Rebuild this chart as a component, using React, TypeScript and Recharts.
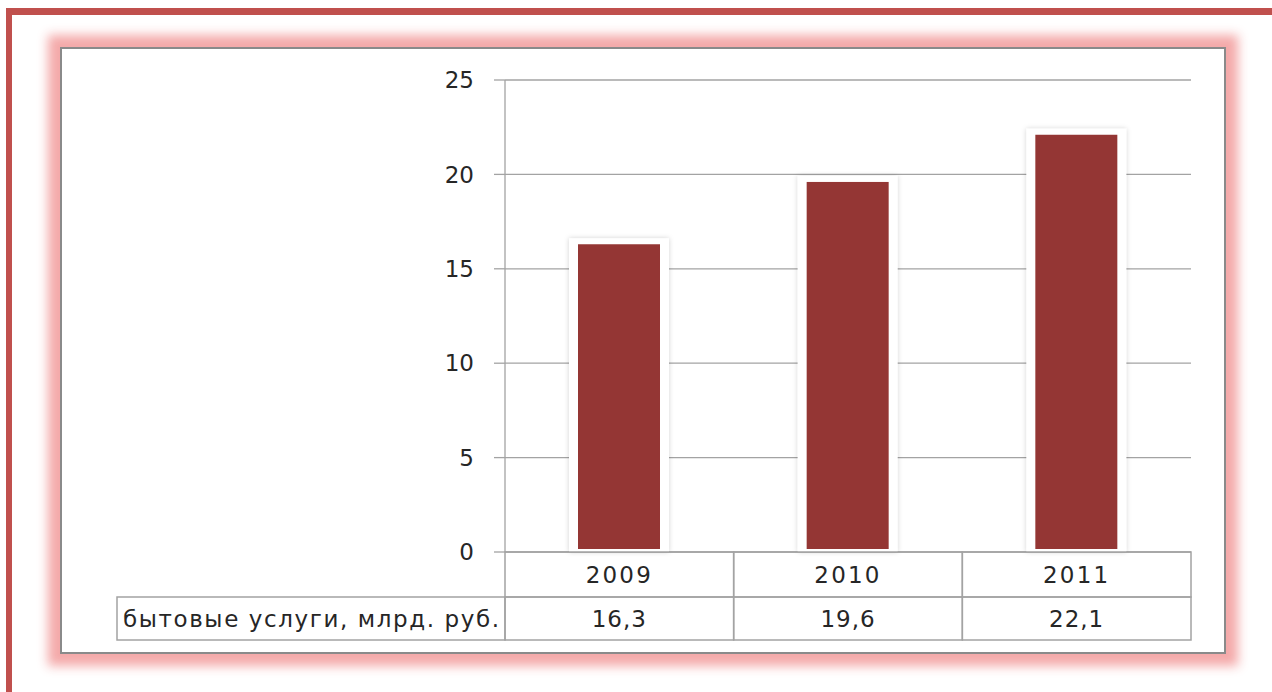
import { BarChart, Bar, XAxis, YAxis, CartesianGrid } from 'recharts'

const years = ['2009', '2010', '2011']
const services = [16.3, 19.6, 22.1]
const yTicks = [0, 5, 10, 15, 20, 25]
const rowLabel = 'бытовые услуги, млрд. руб.'

const data = years.map((year, i) => ({ year, value: services[i] }))

const FONT = '"DejaVu Sans", sans-serif'
const TEXT = '#262626'
const LINE = '#a3a3a3'
const BAR = '#943634'

// plot box in page pixels
const W = 1272
const H = 692
const PLOT_LEFT = 505
const PLOT_RIGHT = 1191
const PLOT_TOP = 80
const AXIS_Y = 552
const ROW1 = 45
const ROW2 = 43
const HALF = (PLOT_RIGHT - PLOT_LEFT) / years.length / 2
const LABEL_LEFT = 117

function fmt(v: number) {
  return String(v).replace('.', ',')
}

// eslint-disable-next-line @typescript-eslint/no-explicit-any
function TableTick(props: any) {
  const { x, y, payload, index } = props
  const v = data[index]?.value
  const l = x - HALF
  return (
    <g>
      <rect x={l} y={y} width={HALF * 2} height={ROW1} fill="none" stroke={LINE} strokeWidth={1.5} />
      <rect x={l} y={y + ROW1} width={HALF * 2} height={ROW2} fill="none" stroke={LINE} strokeWidth={1.5} />
      <text x={x} y={y + ROW1 / 2} textAnchor="middle" dominantBaseline="central" fontSize={23} fill={TEXT} fontFamily={FONT} letterSpacing={2.2}>
        {payload.value}
      </text>
      <text x={x} y={y + ROW1 + ROW2 / 2} textAnchor="middle" dominantBaseline="central" fontSize={23} fill={TEXT} fontFamily={FONT} letterSpacing={1}>
        {v != null ? fmt(v) : ''}
      </text>
      {index === 0 && (
        <g>
          <rect x={LABEL_LEFT} y={y + ROW1} width={l - LABEL_LEFT} height={ROW2} fill="none" stroke={LINE} strokeWidth={1.5} />
          <text x={LABEL_LEFT + 6} y={y + ROW1 + ROW2 / 2} dominantBaseline="central" fontSize={23} fill={TEXT} fontFamily={FONT} letterSpacing={1.6}>
            {rowLabel}
          </text>
        </g>
      )}
    </g>
  )
}

// eslint-disable-next-line @typescript-eslint/no-explicit-any
function HaloBar(props: any) {
  const { x, y, width, height } = props
  return (
    <g>
      <rect x={x - 9} y={y - 6} width={width + 18} height={height + 6} fill="#fff" filter="url(#halo)" />
      <rect x={x} y={y} width={width} height={height - 3} fill={BAR} />
    </g>
  )
}

export default function App() {
  return (
    <div style={{ position: 'absolute', left: 0, top: 0, width: W, height: H, background: '#fff', overflow: 'hidden' }}>
      {/* outer red frame */}
      <div style={{ position: 'absolute', left: 6, top: 8, width: W, height: H, borderTop: '7px solid #C0504D', borderLeft: '6px solid #C0504D', boxSizing: 'border-box' }} />
      {/* inner box with pink glow */}
      <div
        style={{
          position: 'absolute', left: 60, top: 47, width: 1166, height: 607, boxSizing: 'border-box',
          border: '2px solid #8a8a8a', background: '#fff',
          boxShadow: '0 0 10px 12px rgba(243,165,165,0.95)',
        }}
      />
      <div style={{ position: 'absolute', left: 0, top: 0 }}>
        <BarChart
          width={W}
          height={H}
          data={data}
          margin={{ top: PLOT_TOP, right: W - PLOT_RIGHT, bottom: H - AXIS_Y - ROW1 - ROW2, left: PLOT_LEFT - 60 }}
        >
          <defs>
            <filter id="halo" x="-20%" y="-20%" width="140%" height="140%">
              <feDropShadow dx="0" dy="0" stdDeviation="2.5" floodColor="#000" floodOpacity="0.18" />
            </filter>
          </defs>
          <CartesianGrid vertical={false} stroke={LINE} strokeWidth={1.3} />
          <YAxis
            width={60}
            domain={[0, 25]}
            ticks={yTicks}
            interval={0}
            tickSize={11}
            tickMargin={20}
            axisLine={{ stroke: LINE, strokeWidth: 1.3 }}
            tickLine={{ stroke: LINE, strokeWidth: 1.3 }}
            tick={{ fontSize: 23, fill: TEXT, fontFamily: FONT }}
          />
          <XAxis
            dataKey="year"
            height={ROW1 + ROW2}
            interval={0}
            tickSize={0}
            tickMargin={0}
            tickLine={false}
            axisLine={false}
            tick={<TableTick />}
          />
          <Bar dataKey="value" barSize={82} shape={<HaloBar />} isAnimationActive={false} />
        </BarChart>
      </div>
    </div>
  )
}
